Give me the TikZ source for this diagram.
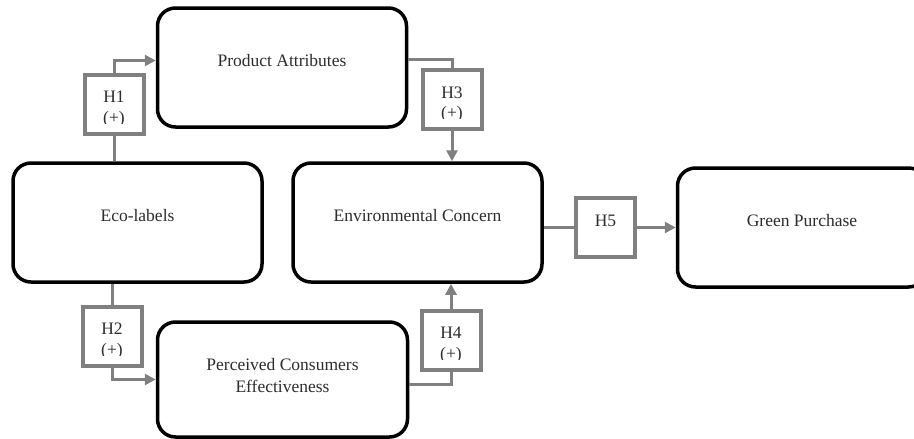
\documentclass[tikz,border=0pt]{standalone}
\usepackage{fontspec}
\setmainfont{Liberation Serif}
\usetikzlibrary{arrows.meta}
\definecolor{hgray}{RGB}{128,128,128}
\definecolor{txtgray}{RGB}{45,45,45}
\tikzset{
  bigbox/.style={draw=black, line width=3.5pt, rounded corners=18pt, fill=white,
    minimum width=249pt, minimum height=119pt, inner sep=0pt, outer sep=1.75pt},
  hbox/.style={draw=hgray, line width=4pt, fill=white, minimum width=59pt,
    minimum height=59pt, inner sep=0pt, outer sep=2pt},
  txt/.style={font=\fontsize{17.5}{22}\selectfont, text=txtgray, inner sep=0pt, align=center},
  conn/.style={draw=hgray, line width=3pt},
  arr/.style={conn, -{Triangle[length=11pt,width=11pt]}},
}
\begin{document}
\begin{tikzpicture}[x=1pt,y=-1pt]
\useasboundingbox (0,0) rectangle (914,439);
% main boxes
\node[bigbox] (pa) at (282,67.5) {};
\node[bigbox] (eco) at (137.5,222.5) {};
\node[bigbox] (env) at (417.5,222.5) {};
\node[bigbox] (gp) at (802,227.5) {};
\node[bigbox, minimum width=250pt, minimum height=115pt] (pce) at (282.5,379.5) {};
% texts of main boxes
\node[txt] (pat) at ([yshift=6.5pt]pa.center) {Product Attributes};
\node[txt] (ecot) at ([yshift=6.5pt]eco.center) {Eco-labels};
\node[txt] (envt) at ([yshift=6.5pt]env.center) {Environmental Concern};
\node[txt] (gpt) at ([yshift=7pt]gp.center) {Green Purchase};
\node[txt] (pcet) at ([yshift=3.5pt]pce.center) {Perceived Consumers\\Effectiveness};
% hypothesis boxes
\node[hbox] (h1) at (114,104) {};
\node[hbox] (h2) at (112,336) {};
\node[hbox] (h3) at (452,99.5) {};
\node[hbox] (h4) at (451,340) {};
\node[hbox] (h5) at (605.5,227.5) {};
% hypothesis labels
\foreach \h/\t in {h1/H1,h2/H2,h3/H3,h4/H4}{
  \node[txt] (\h l) at ([yshift=7pt]\h.center) {\t};
  \begin{scope}
    \clip ([yshift=-19pt]\h.west) rectangle (\h.north east);
    \node[txt] (\h p) at ([yshift=-15pt]\h.center) {(+)};
  \end{scope}
}
\node[txt] (h5l) at ([yshift=7pt]h5.center) {H5};
% connectors
\draw[conn] (eco.north -| h1) -- (h1.south);
\draw[arr] (h1.north) |- ([yshift=7pt]pa.west);
\draw[conn] ([yshift=8pt]pa.east) -| (h3.north);
\draw[arr] (h3.south) -- (env.north -| h3);
\draw[conn] (eco.south -| h2) -- (h2.north);
\draw[arr] (h2.south) |- (pce.west);
\draw[conn] ([yshift=-4.5pt]pce.east) -| (h4.south);
\draw[arr] (h4.north) -- (env.south -| h4);
\draw[conn] (h5.west -| env.east) -- (h5.west);
\draw[arr] (h5.east) -- (gp.west);
\end{tikzpicture}
\end{document}
